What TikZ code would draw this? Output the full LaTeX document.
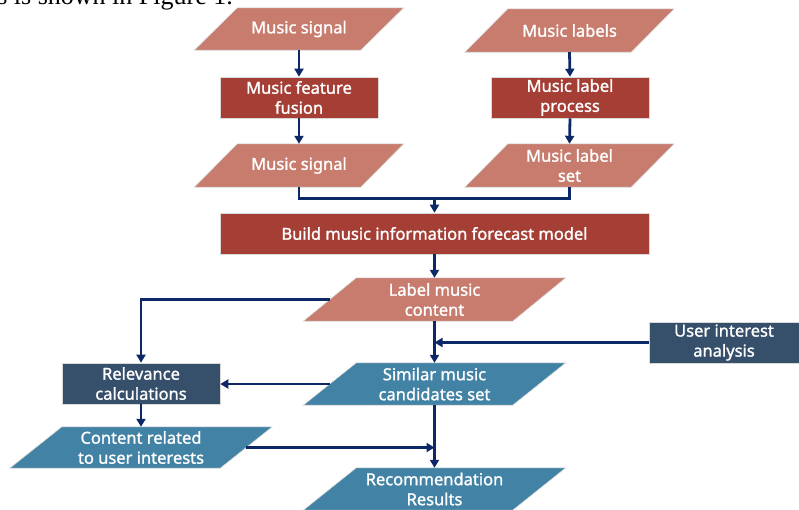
\documentclass[tikz,border=0pt]{standalone}
\usepackage{fontspec}
\setmainfont{Noto Sans}[AutoFakeBold=1.3]
\newfontfamily\docserif{Liberation Serif}
\usetikzlibrary{arrows.meta,calc,backgrounds}
\definecolor{salmon}{RGB}{199,124,110}
\definecolor{darkred}{RGB}{165,63,54}
\definecolor{slateblue}{RGB}{54,79,107}
\definecolor{tealblue}{RGB}{66,130,165}
\definecolor{navyline}{RGB}{12,40,102}
\tikzset{
  box/.style={rectangle, inner sep=0pt, align=center, text=white,
    font=\bfseries\fontsize{16.5}{20}\selectfont, draw=black!15, line width=0.6pt},
  redbox/.style={box, fill=darkred},
  bluebox/.style={box, fill=slateblue},
  para/.style={rectangle, inner sep=0pt, align=center, text=white,
    font=\bfseries\fontsize{16.5}{20}\selectfont},
  flow/.style={draw=navyline, line width=2.8pt, -{Triangle[length=8pt,width=9pt]}},
  flowline/.style={draw=navyline, line width=2.8pt},
}
\begin{document}
\begin{tikzpicture}[x=1pt,y=-1pt]
\useasboundingbox (0,0) rectangle (799,509);
\node[font=\docserif\fontsize{26}{30}\selectfont, anchor=base east, inner sep=0pt] (toptext) at (233,4) {s is shown in Figure 1.};
% nodes
\node[para, minimum width=166pt, minimum height=42pt] (ms1) at (299,29) {Music signal};
\node[redbox, minimum width=158pt, minimum height=41pt] (mff) at (299,97.5) {Music feature\\fusion};
\node[para, minimum width=166pt, minimum height=43pt] (ms2) at (299,165.5) {Music signal};
\node[para, minimum width=166pt, minimum height=43pt] (ml) at (569.5,30.5) {Music labels};
\node[redbox, minimum width=158pt, minimum height=41pt] (mlp) at (570,97.5) {Music label\\process};
\node[para, minimum width=166pt, minimum height=43pt] (mls) at (569.5,165.5) {Music label\\set};
\node[redbox, minimum width=429pt, minimum height=41pt] (build) at (434.5,233.5) {Build music information forecast model};
\node[para, minimum width=209pt, minimum height=43pt] (lmc) at (434.5,299.5) {Label music\\content};
\node[bluebox, minimum width=150pt, minimum height=41pt] (user) at (724,342.5) {User interest\\analysis};
\node[para, minimum width=209pt, minimum height=42pt] (sim) at (434.5,384) {Similar music\\candidates set};
\node[bluebox, minimum width=158pt, minimum height=41pt] (rel) at (141,383.5) {Relevance\\calculations};
\node[para, minimum width=210pt, minimum height=41pt] (crui) at (141,447.5) {Content related\\to user interests};
\node[para, minimum width=209pt, minimum height=42pt] (rec) at (434.5,489) {Recommendation\\Results};
% parallelogram backgrounds
\begin{scope}[on background layer]
\foreach \n/\c/\s in {ms1/salmon/43, ms2/salmon/43, ml/salmon/43, mls/salmon/43, lmc/salmon/53, sim/tealblue/53, crui/tealblue/52, rec/tealblue/53}{
  \filldraw[fill=\c, draw=black!15, line width=0.6pt]
    ($(\n.south west)+(-\s/2,0)$) -- ($(\n.south east)+(-\s/2,0)$) --
    ($(\n.north east)+(\s/2,0)$) -- ($(\n.north west)+(\s/2,0)$) -- cycle;
}
\end{scope}
% connectors
\draw[flow] (ms1.south) -- (mff.north);
\draw[flow] (mff.south) -- (ms2.north);
\draw[flow] (ml.south) -- (mlp.north);
\draw[flow] (mlp.south) -- (mls.north);
\coordinate (join) at ($(build.north)+(0,-14)$);
\draw[flowline] (ms2.south) |- (join) -| (mls.south);
\draw[flow] (join) -- (build.north);
\draw[flow] (build.south) -- (lmc.north);
\draw[flow] (lmc.west) -| (rel.north);
\draw[flow] (lmc.south) -- (sim.north);
\draw[flow] (user.west) -- (lmc.south |- user.west);
\draw[flow] (sim.west) -- (rel.east |- sim.west);
\draw[flow] (rel.south) -- (crui.north);
\draw[flow] (crui.east) -- (sim.south |- crui.east);
\draw[flow] (sim.south) -- (rec.north);
\end{tikzpicture}
\end{document}
